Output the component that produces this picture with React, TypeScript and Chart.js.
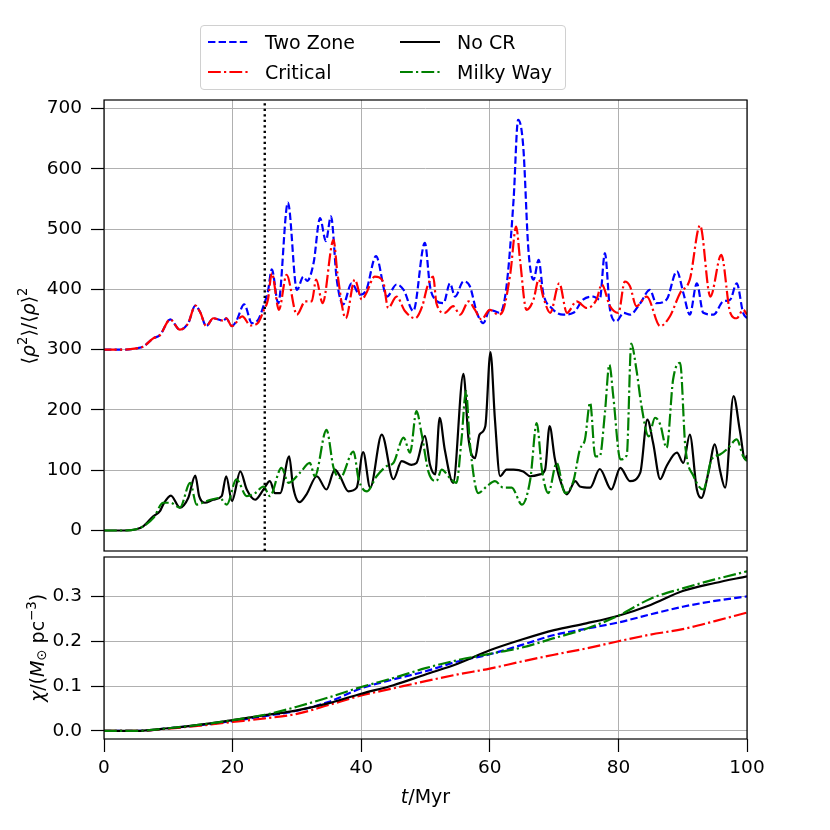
import { useEffect, useRef } from "react"
import { Chart, registerables } from "chart.js"

Chart.register(...registerables)

// time axis ticks (Myr)
const X_TICKS = [0, 20, 40, 60, 80, 100]
const RHO_TICKS = [0, 100, 200, 300, 400, 500, 600, 700]
const CHI_TICKS = [0, 0.1, 0.2, 0.3]
const RHO_MIN = -34
const RHO_MAX = 714
const CHI_MIN = -0.018
const CHI_MAX = 0.388
const MARK_T = 25

// clumping factor <rho^2>/<rho>^2
const TWO_ZONE_T = [0, 3, 5, 6.1, 7.7, 8.7, 10.3, 11.8, 13.1, 14.2, 15, 15.9, 17, 18.6, 19, 19.9, 20.6, 21.8, 23, 24, 24.8, 25.5, 26.1, 27.1, 28.6, 30, 31, 31.6, 32.6, 33.6, 34.5, 35.3, 36.2, 37.2, 38.5, 39.8, 40.8, 42.3, 44, 45.5, 46.6, 48.1, 49.9, 50.7, 51.5, 52.8, 53.8, 54.6, 55.9, 56.9, 58, 59, 60, 61.6, 62.6, 63.7, 64.4, 65.2, 66, 66.8, 67.6, 68.3, 69.6, 71.4, 73, 74.5, 76.1, 77.1, 77.9, 78.7, 79.7, 80.8, 81.8, 83.4, 84.9, 85.9, 87.5, 89.1, 90.1, 91.1, 92.2, 93.2, 94.8, 96.3, 97.4, 98.4, 99.4, 100]
const TWO_ZONE_RHO = [300, 300, 302, 305, 319, 324, 350, 333, 344, 373, 361, 339, 352, 348, 352, 339, 348, 375, 344, 350, 372, 397, 433, 377, 544, 399, 421, 414, 444, 518, 480, 521, 416, 375, 410, 391, 399, 455, 388, 408, 399, 364, 477, 405, 383, 377, 410, 388, 413, 405, 361, 344, 366, 361, 405, 549, 681, 637, 466, 416, 449, 394, 369, 358, 361, 383, 388, 383, 460, 366, 347, 361, 358, 377, 399, 377, 383, 430, 394, 358, 410, 361, 358, 380, 383, 410, 361, 352]

const CRITICAL_T = [0, 3, 5, 6.1, 7.7, 8.7, 10.3, 11.8, 13.1, 14.2, 15, 15.9, 17, 18.6, 19, 19.9, 21.5, 22.8, 24, 24.8, 25.5, 26.1, 27.2, 28.4, 30, 31.3, 32.3, 33, 34, 35.7, 36.3, 37.6, 39, 40.1, 40.8, 42.1, 43.4, 44.2, 45.5, 46.8, 48.4, 49.5, 50.3, 51.2, 51.7, 53, 54.3, 55.4, 56.7, 57.7, 58.7, 60, 61.3, 62.1, 63.2, 64.1, 64.7, 65.7, 66.8, 67.6, 68.3, 69.4, 70.8, 72, 73.5, 75.1, 76.6, 77.4, 78.7, 80, 81, 81.8, 82.8, 84.4, 86.5, 88, 89.6, 91.1, 92.7, 94.3, 96, 97.4, 98.4, 99.4, 100]
const CRITICAL_RHO = [300, 300, 302, 305, 319, 324, 350, 333, 344, 373, 361, 339, 352, 348, 352, 339, 355, 340, 345, 364, 383, 427, 366, 424, 358, 380, 380, 416, 377, 482, 427, 352, 416, 383, 394, 421, 413, 369, 388, 364, 352, 372, 405, 421, 377, 361, 372, 358, 380, 366, 350, 366, 358, 366, 427, 504, 449, 366, 383, 416, 388, 361, 410, 361, 380, 369, 383, 408, 372, 361, 413, 405, 372, 388, 339, 355, 394, 416, 506, 388, 457, 361, 352, 366, 358]

const NO_CR_T = [0, 3, 5, 6.1, 7.7, 8.7, 9.2, 10.4, 11.8, 13.1, 14.2, 14.8, 15.7, 17, 18.3, 19, 19.9, 21.2, 22.2, 23.5, 24.8, 25.8, 26.6, 27.4, 28.8, 29.4, 30.4, 31.5, 33.1, 34.6, 35.9, 36.7, 38, 39.3, 40.3, 41.4, 43.2, 45, 46.3, 47.8, 48.6, 49.9, 50.7, 51.5, 52.2, 53, 54.3, 55.9, 56.7, 57.7, 58.4, 59.3, 60.1, 60.8, 61.6, 62.6, 63.7, 65.2, 66.3, 67.8, 68.6, 69.3, 70.1, 70.9, 72, 73.3, 74, 75.6, 77.1, 78.9, 80.3, 81.8, 83.4, 84.5, 85.4, 86.5, 87.5, 89.1, 90.1, 91.1, 92.2, 92.9, 94, 95, 95.8, 96.6, 97.9, 98.9, 99.7, 100]
const NO_CR_RHO = [0, 0, 2, 7, 24, 32, 43, 58, 38, 54, 91, 57, 46, 51, 57, 90, 49, 98, 68, 51, 68, 82, 62, 62, 123, 73, 47, 60, 90, 68, 101, 90, 65, 71, 130, 71, 159, 85, 115, 109, 112, 157, 109, 93, 187, 134, 79, 260, 151, 120, 159, 173, 296, 184, 90, 101, 101, 98, 90, 93, 101, 173, 120, 85, 60, 82, 73, 71, 102, 68, 104, 82, 96, 184, 145, 85, 107, 129, 112, 159, 68, 54, 96, 143, 100, 71, 223, 165, 118, 125]

const MILKY_WAY_T = [0, 3, 5, 6.1, 7.7, 9.2, 10.3, 11.8, 13.4, 14.4, 16, 18, 19.1, 20.6, 22.2, 23.5, 24.8, 25.8, 27.6, 28.7, 30.5, 32, 32.8, 34.6, 35.7, 36.7, 38.8, 39.6, 40.9, 42.4, 44, 45, 46.6, 47.6, 48.6, 49.4, 50.5, 51.7, 52.5, 53.8, 54.8, 55.6, 56.3, 56.9, 58.2, 59.5, 60.8, 62.1, 63.4, 65, 66.3, 67.3, 68.1, 69.1, 70.4, 71.7, 73, 74, 74.8, 75.6, 76.4, 77.1, 77.9, 78.6, 79.2, 80.3, 81.3, 82, 82.8, 83.6, 84.7, 85.7, 86.5, 87.5, 88.5, 89.6, 90.4, 91.7, 93.2, 94.5, 95.8, 97.1, 98.4, 99.4, 100]
const MILKY_WAY_RHO = [0, 0, 2, 7, 21, 46, 46, 38, 79, 43, 49, 54, 43, 85, 57, 62, 73, 57, 104, 79, 96, 112, 90, 167, 104, 87, 131, 85, 65, 90, 107, 112, 154, 129, 198, 160, 96, 82, 101, 87, 79, 151, 231, 145, 62, 73, 82, 71, 71, 43, 85, 178, 101, 62, 112, 62, 82, 134, 151, 212, 123, 123, 195, 275, 223, 118, 125, 310, 267, 206, 156, 187, 176, 137, 250, 278, 140, 90, 68, 118, 126, 137, 151, 123, 115]

// chi / (M_sun pc^-3)
const CHI_T = [0, 5, 10, 15, 20, 25, 30, 35, 40, 45, 50, 55, 60, 65, 70, 75, 80, 85, 90, 95, 100]
const CHI_TWO_ZONE = [0, 0, 0.006, 0.013, 0.022, 0.033, 0.045, 0.065, 0.095, 0.115, 0.133, 0.155, 0.171, 0.192, 0.214, 0.228, 0.242, 0.26, 0.277, 0.29, 0.3]
const CHI_CRITICAL = [0, 0, 0.005, 0.012, 0.02, 0.028, 0.038, 0.058, 0.079, 0.095, 0.111, 0.126, 0.139, 0.155, 0.17, 0.184, 0.2, 0.215, 0.227, 0.245, 0.264]
const CHI_NO_CR = [0, 0, 0.006, 0.014, 0.024, 0.035, 0.046, 0.062, 0.083, 0.102, 0.126, 0.15, 0.18, 0.204, 0.225, 0.24, 0.257, 0.281, 0.312, 0.33, 0.345]
const CHI_MILKY_WAY = [0, 0, 0.006, 0.014, 0.024, 0.036, 0.054, 0.075, 0.098, 0.118, 0.14, 0.158, 0.172, 0.186, 0.207, 0.228, 0.257, 0.295, 0.318, 0.338, 0.356]

const FONT = "'DejaVu Sans', sans-serif"
const GRID = "#b0b0b0"
const LW = 2.2
const DASHED = [7.4, 3.2]
const DASH_DOT = [12.8, 3.2, 2.2, 3.2]

const SERIES = [
  { label: "Two Zone", color: "#0000ff", dash: DASHED, order: 4 },
  { label: "Critical", color: "#ff0000", dash: DASH_DOT, order: 3 },
  { label: "No CR", color: "#000000", dash: [] as number[], order: 2 },
  { label: "Milky Way", color: "#008000", dash: DASH_DOT, order: 1 },
]

const zip = (xs: number[], ys: number[]) => xs.map((x, i) => ({ x, y: ys[i] }))

const frame = {
  id: "frame",
  afterDraw(chart: Chart) {
    const { ctx, chartArea: a } = chart
    ctx.save()
    ctx.strokeStyle = "#000"
    ctx.lineWidth = 1.2
    ctx.strokeRect(a.left, a.top, a.right - a.left, a.bottom - a.top)
    ctx.restore()
  },
}

// keep chart area exactly where the layout padding puts it
const noPad = (s: any) => {
  s.paddingTop = 0
  s.paddingBottom = 0
  s.paddingLeft = 0
  s.paddingRight = 0
}

function lineSet(i: number, data: { x: number; y: number }[]) {
  const s = SERIES[i]
  return {
    label: s.label,
    data,
    borderColor: s.color,
    borderDash: s.dash,
    borderWidth: LW,
    pointRadius: 0,
    cubicInterpolationMode: "monotone" as const,
    order: s.order,
  }
}

function xScale(showLabels: boolean, height: number) {
  return {
    type: "linear" as const,
    min: 0,
    max: 100,
    afterBuildTicks: (s: any) => {
      s.ticks = X_TICKS.map((v) => ({ value: v }))
    },
    afterFit: (s: any) => {
      s.height = height
      noPad(s)
    },
    border: { display: false },
    grid: {
      color: GRID,
      lineWidth: 1,
      drawTicks: showLabels,
      tickLength: 13,
      tickColor: "#000",
      tickWidth: 1.2,
    },
    ticks: {
      display: showLabels,
      padding: 5,
      color: "#000",
      font: { family: FONT, size: 18.5 },
      callback: (v: any) => String(v),
    },
  }
}

function yScale(min: number, max: number, ticks: number[], fmt: (v: number) => string) {
  return {
    type: "linear" as const,
    min,
    max,
    afterBuildTicks: (s: any) => {
      s.ticks = ticks.map((v) => ({ value: v }))
    },
    afterFit: (s: any) => {
      s.width = 104
      noPad(s)
    },
    border: { display: false },
    grid: { color: GRID, lineWidth: 1, tickLength: 13, tickColor: "#000", tickWidth: 1.2 },
    ticks: {
      padding: 9,
      color: "#000",
      font: { family: FONT, size: 18.5 },
      callback: (v: any) => fmt(Number(v)),
    },
  }
}

function TopChart() {
  const ref = useRef<HTMLCanvasElement>(null)
  useEffect(() => {
    if (!ref.current) return
    const chart = new Chart(ref.current, {
      type: "line",
      data: {
        datasets: [
          lineSet(0, zip(TWO_ZONE_T, TWO_ZONE_RHO)),
          lineSet(1, zip(CRITICAL_T, CRITICAL_RHO)),
          lineSet(2, zip(NO_CR_T, NO_CR_RHO)),
          lineSet(3, zip(MILKY_WAY_T, MILKY_WAY_RHO)),
          {
            label: "t25",
            data: [
              { x: MARK_T, y: RHO_MIN },
              { x: MARK_T, y: RHO_MAX },
            ],
            borderColor: "#000",
            borderDash: [2.2, 3.3],
            borderWidth: 2.4,
            pointRadius: 0,
            order: 0,
          },
        ],
      },
      options: {
        animation: false,
        responsive: false,
        events: [],
        layout: { padding: { left: 0, right: 83, top: 100, bottom: 0 } },
        plugins: { legend: { display: false }, tooltip: { enabled: false } },
        scales: {
          x: xScale(false, 9),
          y: yScale(RHO_MIN, RHO_MAX, RHO_TICKS, (v) => String(v)),
        },
      },
      plugins: [frame],
    })
    return () => chart.destroy()
  }, [])
  return <canvas ref={ref} width={830} height={560} style={{ position: "absolute", left: 0, top: 0 }} />
}

function BottomChart() {
  const ref = useRef<HTMLCanvasElement>(null)
  useEffect(() => {
    if (!ref.current) return
    const chart = new Chart(ref.current, {
      type: "line",
      data: {
        datasets: [
          lineSet(0, zip(CHI_T, CHI_TWO_ZONE)),
          lineSet(1, zip(CHI_T, CHI_CRITICAL)),
          lineSet(2, zip(CHI_T, CHI_NO_CR)),
          lineSet(3, zip(CHI_T, CHI_MILKY_WAY)),
        ],
      },
      options: {
        animation: false,
        responsive: false,
        events: [],
        layout: { padding: { left: 0, right: 83, top: 7, bottom: 0 } },
        plugins: { legend: { display: false }, tooltip: { enabled: false } },
        scales: {
          x: xScale(true, 91),
          y: yScale(CHI_MIN, CHI_MAX, CHI_TICKS, (v) => v.toFixed(1)),
        },
      },
      plugins: [frame],
    })
    return () => chart.destroy()
  }, [])
  return <canvas ref={ref} width={830} height={280} style={{ position: "absolute", left: 0, top: 550 }} />
}

const sup = { fontSize: "0.7em", verticalAlign: "0.55em", lineHeight: 0 }
const sub = { fontSize: "0.7em", verticalAlign: "-0.2em", lineHeight: 0 }

function LegendSample({ color, dash }: { color: string; dash: number[] }) {
  return (
    <svg width={40} height={10} style={{ display: "block" }}>
      <line x1={0} y1={5} x2={40} y2={5} stroke={color} strokeWidth={LW} strokeDasharray={dash.length ? dash.join(" ") : undefined} />
    </svg>
  )
}

function Legend() {
  const cols = [
    [SERIES[0], SERIES[1]],
    [SERIES[2], SERIES[3]],
  ]
  return (
    <div
      style={{
        position: "absolute",
        left: 200,
        top: 25,
        width: 364,
        height: 63,
        border: "1px solid #d0d0d0",
        borderRadius: 4,
        background: "rgba(255,255,255,0.8)",
        fontFamily: FONT,
        fontSize: 19,
        color: "#000",
      }}
    >
      {cols.map((col, ci) =>
        col.map((s, ri) => (
          <div
            key={s.label}
            style={{
              position: "absolute",
              left: ci === 0 ? 7 : 199,
              top: ri === 0 ? 5 : 35,
              height: 22,
              display: "flex",
              alignItems: "center",
              whiteSpace: "nowrap",
            }}
          >
            <LegendSample color={s.color} dash={s.dash} />
            <span style={{ marginLeft: 17, lineHeight: "22px" }}>{s.label}</span>
          </div>
        ))
      )}
    </div>
  )
}

function AxisTitles() {
  const base = { position: "absolute" as const, fontFamily: FONT, fontSize: 19, color: "#000", whiteSpace: "nowrap" as const, lineHeight: 1 }
  return (
    <>
      <div style={{ ...base, left: 425.5, top: 787, transform: "translateX(-50%)" }}>
        <i>t</i>/Myr
      </div>
      <div style={{ ...base, left: 28, top: 325.5, transform: "translate(-50%, -50%) rotate(-90deg)" }}>
        ⟨<i>ρ</i>
        <span style={sup}>2</span>⟩/⟨<i>ρ</i>⟩<span style={sup}>2</span>
      </div>
      <div style={{ ...base, left: 37, top: 648, transform: "translate(-50%, -50%) rotate(-90deg)" }}>
        <i>χ</i>/(<i>M</i>
        <span style={sub}>⊙</span> pc<span style={sup}>−3</span>)
      </div>
    </>
  )
}

export default function App() {
  return (
    <div style={{ position: "absolute", left: 0, top: 0, width: 830, height: 830, background: "#fff" }}>
      <TopChart />
      <BottomChart />
      <Legend />
      <AxisTitles />
    </div>
  )
}
